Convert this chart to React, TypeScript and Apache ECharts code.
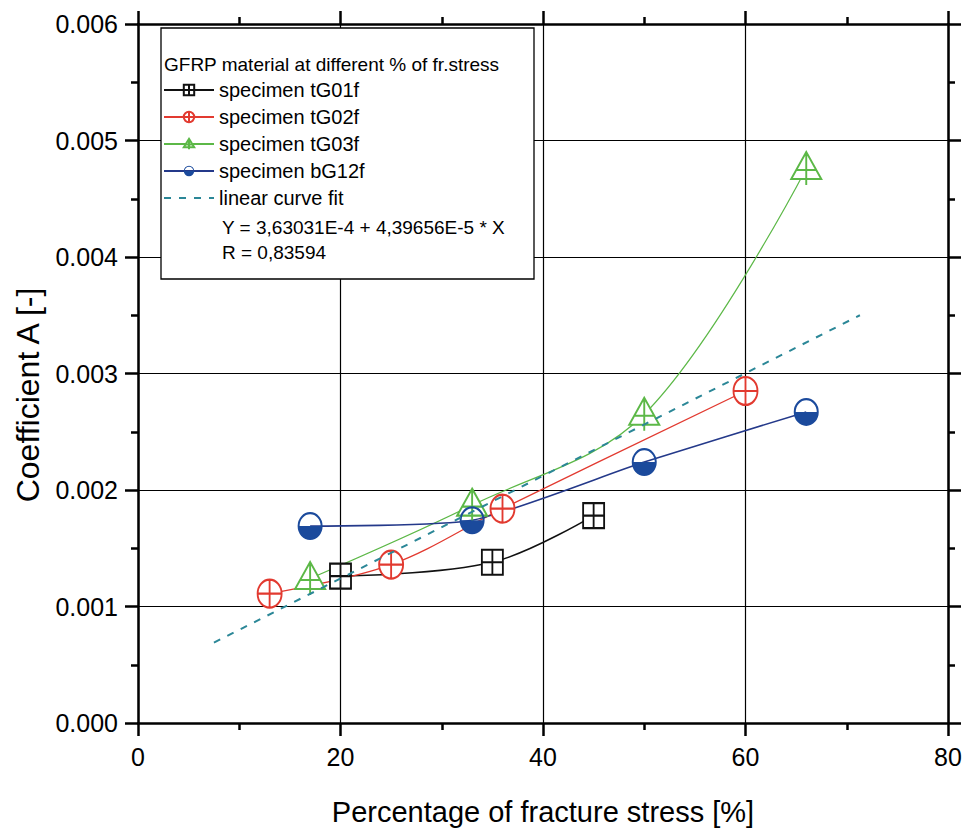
import React, { useEffect, useRef } from "react";
import * as echarts from "echarts";

// ---- data ----
const xLabelTicks = [0, 20, 40, 60, 80];
const tG01fX = [20, 35, 45];
const tG01fY = [0.00126, 0.00138, 0.00178];
const tG02fX = [13, 25, 36, 60];
const tG02fY = [0.00111, 0.00136, 0.00184, 0.00285];
const tG03fX = [17, 33, 50, 66];
const tG03fY = [0.00124, 0.00187, 0.00265, 0.00476];
const bG12fX = [17, 33, 50, 66];
const bG12fY = [0.00169, 0.00174, 0.00224, 0.00267];
const fitX = [7.5, 71.3];
const fitY = [0.00069, 0.0035];

const seriesNames = ["specimen tG01f", "specimen tG02f", "specimen tG03f", "specimen bG12f", "linear curve fit"];
const legendTitle = "GFRP material at different % of fr.stress";
const fitEquation = "Y = 3,63031E-4 + 4,39656E-5 * X";
const fitR = "R = 0,83594";
const xTitle = "Percentage of fracture stress [%]";
const yTitle = "Coefficient A [-]";

const SANS = "'Liberation Sans', Arial, sans-serif";

const SQUARE = "emptypath://M0 0 L20 0 L20 20 L0 20 Z M10 0 L10 20 M0 10 L20 10";
const CIRCLE = "emptypath://M0 10 A10 10 0 1 1 20 10 A10 10 0 1 1 0 10 Z M10 0 L10 20 M0 10 L20 10";
const TRIANGLE = "emptypath://M10 0 L20 18 L0 18 Z M10 0 L10 22 M3 12 L17 12";
const HALF =
  "path://M0 10 A10 10 0 0 1 20 10 L18.4 10 A8.4 8.4 0 0 0 1.6 10 Z M0 10 A10 10 0 0 0 20 10 Z";

const pairs = (xs: number[], ys: number[]) => xs.map((x, i) => [x, ys[i]]);

const BLACK = "#111111";
const RED = "#e23a30";
const GREEN = "#5cb847";
const BLUE = "#1b4a9c";
const TEAL = "#2b8797";

export default function App() {
  const ref = useRef<HTMLDivElement>(null);
  useEffect(() => {
    if (!ref.current) return;
    const chart = echarts.init(ref.current, undefined, { renderer: "svg" });
    const axisCommon = {
      axisLine: { onZero: false, lineStyle: { color: "#000", width: 2.5 } },
      axisTick: { inside: false, length: 13, lineStyle: { color: "#000", width: 2.5 } },
      minorTick: { show: true, splitNumber: 2, length: 7, lineStyle: { color: "#000", width: 2.5 } },
    };
    chart.setOption({
      animation: false,
      backgroundColor: "#fff",
      grid: { left: 138, right: 18, top: 24, bottom: 111 },
      xAxis: [
        {
          type: "value",
          min: 0,
          max: 80,
          interval: 20,
          position: "bottom",
          ...axisCommon,
          splitLine: { show: true, lineStyle: { color: "#000", width: 1.2 } },
          axisLabel: {
            fontSize: 25,
            color: "#000",
            margin: 21,
            fontFamily: SANS,
            formatter: (v: number) => (xLabelTicks.includes(v) ? String(v) : ""),
          },
          name: xTitle,
          nameLocation: "middle",
          nameGap: 74,
          nameTextStyle: { fontSize: 29, color: "#000", fontFamily: SANS },
        },
        {
          type: "value",
          min: 0,
          max: 80,
          interval: 20,
          position: "top",
          ...axisCommon,
          splitLine: { show: false },
          axisLabel: { show: false },
        },
      ],
      yAxis: [
        {
          type: "value",
          min: 0,
          max: 0.006,
          interval: 0.001,
          position: "left",
          ...axisCommon,
          splitLine: { show: true, lineStyle: { color: "#000", width: 1.2 } },
          axisLabel: {
            fontSize: 25,
            color: "#000",
            margin: 20,
            fontFamily: SANS,
            formatter: (v: number) => v.toFixed(3),
          },
        },
        {
          type: "value",
          min: 0,
          max: 0.006,
          interval: 0.001,
          position: "right",
          ...axisCommon,
          splitLine: { show: false },
          axisLabel: { show: false },
        },
      ],
      legend: {
        show: true,
        orient: "vertical",
        left: 163,
        top: 76.5,
        padding: 0,
        itemGap: 0,
        itemWidth: 50,
        itemHeight: 13,
        data: [
          seriesNames[0],
          seriesNames[1],
          seriesNames[2],
          seriesNames[3],
          { name: seriesNames[4], itemStyle: { opacity: 0 } },
        ],
        textStyle: { fontSize: 20, lineHeight: 27, color: "#000", fontFamily: SANS },
        selectedMode: false,
        z: 20,
      },
      graphic: [
        {
          type: "rect",
          shape: { x: 161, y: 28, width: 373, height: 251 },
          style: { fill: "#fff", stroke: "#000", lineWidth: 1.3 },
          z: 5,
        },
        {
          type: "text",
          x: 164,
          y: 64,
          style: { text: legendTitle, fontSize: 19, fontFamily: SANS, fill: "#000", textVerticalAlign: "middle" },
          z: 6,
        },
        {
          type: "text",
          x: 222,
          y: 227,
          style: { text: fitEquation, fontSize: 19, fontFamily: SANS, fill: "#000", textVerticalAlign: "middle" },
          z: 6,
        },
        {
          type: "text",
          x: 222,
          y: 252,
          style: { text: fitR, fontSize: 19, fontFamily: SANS, fill: "#000", textVerticalAlign: "middle" },
          z: 6,
        },
        {
          type: "text",
          x: 28,
          y: 395,
          rotation: Math.PI / 2,
          style: {
            text: yTitle,
            fontSize: 32,
            fontFamily: SANS,
            fill: "#000",
            textAlign: "center",
            textVerticalAlign: "middle",
          },
        },
      ],
      series: [
        {
          name: seriesNames[0],
          type: "line",
          data: pairs(tG01fX, tG01fY),
          smooth: 0.35,
          symbol: SQUARE,
          symbolSize: [21, 25],
          itemStyle: { color: BLACK },
          lineStyle: { color: BLACK, width: 1.6 },
          z: 3,
        },
        {
          name: seriesNames[1],
          type: "line",
          data: pairs(tG02fX, tG02fY),
          smooth: 0.35,
          symbol: CIRCLE,
          symbolSize: [24, 28],
          itemStyle: { color: RED },
          lineStyle: { color: RED, width: 1.3 },
          z: 3,
        },
        {
          name: seriesNames[2],
          type: "line",
          data: pairs(tG03fX, tG03fY),
          smooth: 0.35,
          symbol: TRIANGLE,
          symbolSize: [30, 33],
          itemStyle: { color: GREEN },
          lineStyle: { color: GREEN, width: 1.2 },
          z: 3,
        },
        {
          name: seriesNames[3],
          type: "line",
          data: pairs(bG12fX, bG12fY),
          smooth: 0.2,
          symbol: HALF,
          symbolSize: [25, 28],
          itemStyle: { color: BLUE },
          lineStyle: { color: "#24398a", width: 1.6 },
          z: 3,
        },
        {
          name: seriesNames[4],
          type: "line",
          data: pairs(fitX, fitY),
          symbol: "none",
          itemStyle: { color: TEAL },
          lineStyle: { color: TEAL, width: 2, type: [7, 8] },
          z: 4,
        },
      ],
    });
    return () => chart.dispose();
  }, []);
  return (
    <div
      ref={ref}
      style={{ position: "fixed", left: 0, top: 0, width: 966, height: 834, background: "#fff" }}
    />
  );
}
